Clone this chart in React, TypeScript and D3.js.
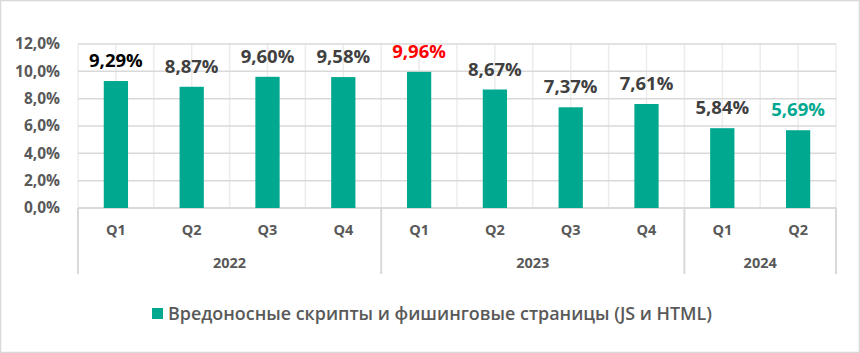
import * as d3 from 'd3'

const quarters = ['Q1', 'Q2', 'Q3', 'Q4', 'Q1', 'Q2', 'Q3', 'Q4', 'Q1', 'Q2']
const years = ['2022', '2023', '2024']
const quartersPerYear = [4, 4, 2]
const values = [9.29, 8.87, 9.6, 9.58, 9.96, 8.67, 7.37, 7.61, 5.84, 5.69]
const yTicks = [0, 2, 4, 6, 8, 10, 12]
const seriesName = 'Вредоносные скрипты и фишинговые страницы (JS и HTML)'

const W = 860, H = 353
const margin = { top: 44, right: 24, bottom: 145, left: 78 }
const font = '"Open Sans", "DejaVu Sans", sans-serif'
const teal = '#00A88F'
const grey = '#595959'

const fmt = (v: number, digits: number) => v.toFixed(digits).replace('.', ',') + '%'

export default function App() {
  const x = d3.scaleBand<number>()
    .domain(d3.range(values.length))
    .range([margin.left, W - margin.right])
    .padding(0)

  const y = d3.scaleLinear()
    .domain([0, 12])
    .range([H - margin.bottom, margin.top])

  const bw = x.bandwidth()
  const barW = bw * 0.32
  const base = y(0)
  const maxIdx = d3.maxIndex(values)

  // label colours: first value black, peak red, latest teal
  const labelColor = (i: number) =>
    i === 0 ? '#000000' : i === maxIdx ? '#FF0000' : i === values.length - 1 ? teal : '#404040'

  // vertical grid: category edges and centres
  const vLines: number[] = []
  for (let i = 0; i <= values.length * 2; i++) vLines.push(margin.left + (i * bw) / 2)

  // year group boundaries
  const starts = [0, ...d3.cumsum(quartersPerYear)]

  return (
    <svg width={W} height={H} style={{ position: 'absolute', left: 0, top: 0, background: '#fff' }}>
      <rect x={0.5} y={0.5} width={W - 1} height={H - 1} fill="#fff" stroke="#d9d9d9" strokeWidth={1.5} />

      {vLines.map((vx, i) => (
        <line key={'v' + i} x1={vx} x2={vx} y1={y(12)} y2={base} stroke="#ececec" strokeWidth={1.5} />
      ))}
      {yTicks.map(t => (
        <line key={'h' + t} x1={margin.left} x2={W - margin.right} y1={y(t)} y2={y(t)}
          stroke="#d9d9d9" strokeWidth={t === 0 ? 2 : 1.5} />
      ))}

      {yTicks.map(t => (
        <text key={'t' + t} x={60} y={y(t)} dy="0.35em" textAnchor="end"
          fontFamily={font} fontWeight={700} fontSize={15.5} fill={grey}>
          {fmt(t, 1)}
        </text>
      ))}

      {values.map((v, i) => {
        const cx = (x(i) as number) + bw / 2
        return (
          <g key={'b' + i}>
            <rect x={cx - barW / 2} y={y(v)} width={barW} height={base - y(v)} fill={teal} />
            <text x={cx} y={y(v) - 14} textAnchor="middle" fontFamily={font} fontWeight={700}
              fontSize={18.5} fill={labelColor(i)}>
              {fmt(v, 2)}
            </text>
            <text x={cx} y={base + 22} dy="0.35em" textAnchor="middle" fontFamily={font}
              fontWeight={700} fontSize={14.5} fill={grey}>
              {quarters[i]}
            </text>
          </g>
        )
      })}

      {starts.map((s, i) => {
        const bx = margin.left + s * bw
        return <line key={'g' + i} x1={bx} x2={bx} y1={base} y2={base + 66} stroke="#d9d9d9" strokeWidth={2} />
      })}
      {years.map((yr, i) => {
        const mid = margin.left + ((starts[i] + starts[i + 1]) / 2) * bw
        return (
          <text key={'y' + yr} x={mid} y={base + 55} dy="0.35em" textAnchor="middle" fontFamily={font}
            fontWeight={700} fontSize={14.5} fill={grey}>
            {yr}
          </text>
        )
      })}

      <rect x={152} y={308} width={11} height={11} fill={teal} />
      <text x={168} y={313.5} dy="0.35em" fontFamily={font} fontWeight={600} fontSize={18.5} fill={grey}
        textLength={544} lengthAdjust="spacingAndGlyphs">
        {seriesName}
      </text>
    </svg>
  )
}
